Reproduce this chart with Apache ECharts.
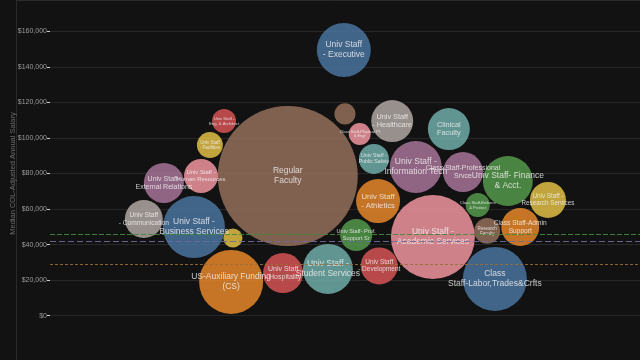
<!DOCTYPE html>
<html>
<head>
<meta charset="utf-8">
<script src="https://cdn.jsdelivr.net/npm/echarts@6.0.0/dist/echarts.min.js"></script>
<style>
html, body { margin: 0; padding: 0; background: #121212; }
#main { width: 640px; height: 360px; }
</style>
</head>
<body>
<div id="main"></div>
<script>
// job groups (label text already wrapped the way the bubbles show it)
var jobGroups = [
  'Univ Staff\n- Executive', 'Regular\nFaculty', '', 'Class Staff-Physical Pl\n& Engr',
  'Univ Staff\n- Healthcare', 'Clinical\nFaculty', 'Univ Staff -\nPublic Safety', 'Univ Staff -\nInformation Tech',
  'Class Staff-Professional\nSrvce', 'Univ Staff- Finance\n& Acct.', 'Univ Staff -\nResearch Services', 'Class Staff-Enforce\n& Protect',
  'Research\nFaculty', 'Class Staff-Admin\nSupport', 'Class\nStaff-Labor,Trades&Crfts', 'Univ Staff -\nAcademic Services',
  'Univ Staff\n- Athletics', 'Univ Staff- Prof.\nSupport Sr', 'Univ Staff\n- Development', 'Univ Staff -\nStudent Services',
  'Univ Staff\n- Hospitality', 'US-Auxiliary Funding\n(CS)', '', 'Univ Staff -\nBusiness Services',
  'Univ Staff\n- Communication', 'Univ Staff-\nExternal Relations', 'Univ Staff -\nHuman Resources', 'Univ Staff\n- Facilities',
  'Univ Staff -\nEng. & Architect'
];
// median COL-adjusted annual salary
var medianSalary = [
  149500, 78600, 113500, 102200,
  109500, 105000, 88200, 83700,
  80800, 75800, 65100, 62300,
  47700, 49900, 20700, 44300,
  64500, 45400, 28000, 26300,
  24000, 19000, 43700, 49900,
  54400, 74700, 78600, 96000,
  109500
];
// packed-bubble horizontal position (0-100)
var packX = [
  49.8, 40.3, 50.0, 52.5,
  58.0, 67.6, 54.9, 62.0,
  70.0, 77.6, 84.4, 72.5,
  74.1, 79.7, 75.4, 64.9,
  55.6, 51.9, 55.8, 47.1,
  39.5, 30.7, 31.0, 24.4,
  15.9, 19.3, 25.6, 27.1,
  29.5
];
// employee count (bubble area)
var headcount = [
  182, 1225, 28, 30,
  110, 110, 56, 169,
  100, 156, 81, 36,
  42, 90, 256, 441,
  121, 64, 86, 156,
  100, 256, 23, 240,
  90, 100, 72, 42,
  36
];
// reference lines
var refValues = [45800, 42000, 28700];

var palette = {
  blue: '#4e79a7', orange: '#f28e2b', red: '#e15759', teal: '#76b7b2', green: '#59a14f',
  yellow: '#edc948', purple: '#b07aa1', pink: '#ff9da7', brown: '#9c755f', gray: '#bab0ac'
};
var bubbleColor = [
  'blue', 'brown', 'brown', 'pink',
  'gray', 'teal', 'teal', 'purple',
  'purple', 'green', 'yellow', 'green',
  'brown', 'orange', 'blue', 'pink',
  'orange', 'green', 'red', 'teal',
  'red', 'orange', 'yellow', 'blue',
  'gray', 'purple', 'pink', 'yellow',
  'red'
];
var refStyle = [
  { color: '#3f8a3a', type: [5, 2] },
  { color: '#6f6aa0', type: [6, 3] },
  { color: '#9a6e34', type: [3, 2] }
];

function bubbleSize(n) { return 4 * Math.sqrt(n); }

var seriesData = jobGroups.map(function (name, i) {
  var r = bubbleSize(headcount[i]) / 2;
  var fs = Math.max(4, Math.min(8.5, r * 0.35));
  return {
    name: name,
    value: [packX[i], medianSalary[i], headcount[i]],
    itemStyle: { color: palette[bubbleColor[i]] },
    label: { fontSize: fs, lineHeight: fs * 1.15 }
  };
});

var chart = echarts.init(document.getElementById('main'));
chart.setOption({
  backgroundColor: '#121212',
  animation: false,
  textStyle: { fontFamily: 'Liberation Sans, Arial, sans-serif' },
  grid: { left: 50, right: 0, top: 31.3, bottom: 44.3, containLabel: false, outerBoundsMode: 'none' },
  xAxis: { type: 'value', min: 0, max: 100, show: false },
  yAxis: {
    type: 'value',
    min: 0, max: 160000, interval: 20000,
    name: 'Median COL-Adjusted Annual Salary',
    nameLocation: 'middle',
    nameGap: 33,
    nameMoveOverlap: false,
    nameTextStyle: { color: '#6a6a6a', fontSize: 7.5 },
    axisLine: { show: false },
    axisTick: { show: true, length: 3, lineStyle: { color: '#cfcfcf' } },
    axisLabel: {
      color: '#9a9a9a', fontSize: 7, margin: 3,
      formatter: function (v) { return '$' + v.toLocaleString('en-US'); }
    },
    splitLine: { lineStyle: { color: '#272727' } }
  },
  graphic: [
    { type: 'line', shape: { x1: 16.5, y1: 0, x2: 16.5, y2: 360 }, style: { stroke: '#2a2a2a', lineWidth: 1 } },
    { type: 'line', shape: { x1: 16.5, y1: 0.5, x2: 640, y2: 0.5 }, style: { stroke: '#2a2a2a', lineWidth: 1 } }
  ],
  series: [{
    type: 'scatter',
    data: seriesData,
    symbolSize: function (val) { return bubbleSize(val[2]); },
    itemStyle: { opacity: 0.8 },
    label: {
      show: true,
      position: 'inside',
      color: '#f2f2f2',
      formatter: '{b}'
    },
    markLine: {
      silent: true,
      symbol: 'none',
      label: { show: false },
      data: refValues.map(function (v, i) {
        return { yAxis: v, lineStyle: { color: refStyle[i].color, type: refStyle[i].type, width: 1.2, opacity: 0.9 } };
      })
    }
  }]
});
</script>
</body>
</html>
